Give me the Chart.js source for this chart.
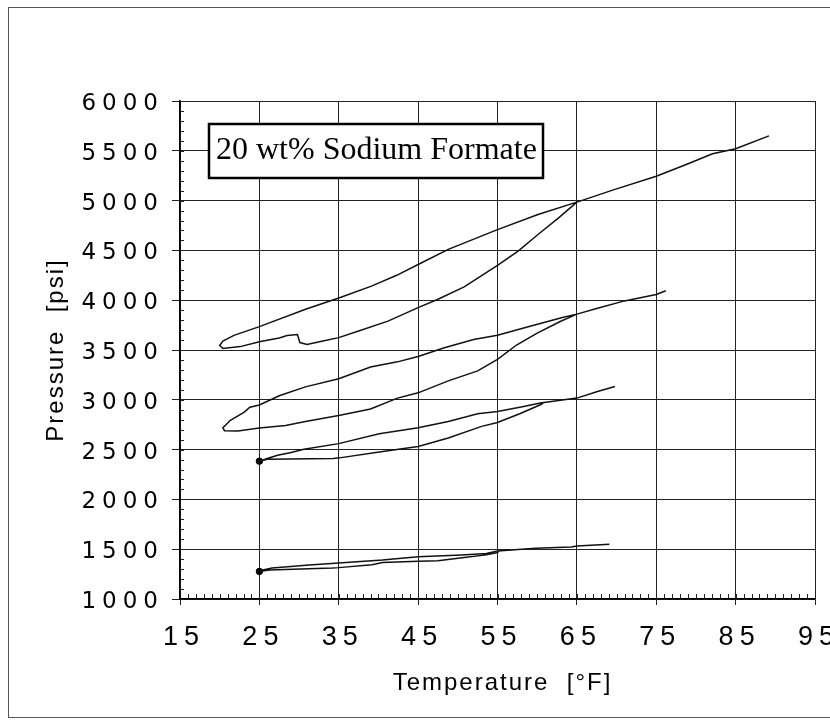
<!DOCTYPE html>
<html>
<head>
<meta charset="utf-8">
<script src="https://cdn.jsdelivr.net/npm/chart.js@4.4.1/dist/chart.umd.min.js"></script>
<style>
html, body { margin: 0; padding: 0; background: #fff; overflow: hidden; }
#wrap { position: relative; width: 830px; height: 725px; overflow: hidden; }
#frame { position: absolute; left: 8px; top: 7px; width: 850px; height: 709px; border: 1px solid #555; }
canvas { position: absolute; left: 0; top: 0; }
</style>
</head>
<body>
<div id="wrap">
  <div id="frame"></div>
  <canvas id="chart" width="830" height="725"></canvas>
</div>
<script>
'use strict'

// axis ticks
const xTickValues = [15, 25, 35, 45, 55, 65, 75, 85, 95];
const yTickValues = [1000, 1500, 2000, 2500, 3000, 3500, 4000, 4500, 5000, 5500, 6000];
const xMinorStep = 1;
const yMinorStep = 100;

const xTitle = 'Temperature  [°F]';
const yTitle = 'Pressure  [psi]';
const boxLabel = '20 wt% Sodium Formate';

// each loop: lower branch (right -> left) then upper branch (left -> right)
const loop1Temp = [65, 62.7, 60.1, 57.6, 55, 50.8, 47.5, 45, 41.2, 37.5, 35, 33, 31, 30.1, 29.8, 28.5, 27.5, 25, 22.6, 20.4, 20.0, 20.4, 21.8, 25, 30.9, 35.1, 39.2, 42.3, 45, 48.8, 55, 60.1, 65, 69.7, 75, 78.7, 82.1, 85, 89.2];
const loop1Pres = [4985, 4826, 4660, 4493, 4350, 4133, 4010, 3925, 3790, 3690, 3624, 3590, 3555, 3575, 3655, 3645, 3620, 3583, 3534, 3515, 3545, 3590, 3647, 3735, 3912, 4025, 4144, 4250, 4358, 4510, 4709, 4860, 4985, 5110, 5245, 5360, 5470, 5520, 5650];

const loop2Temp = [65, 62.9, 60, 57.4, 55, 52.5, 48.8, 45, 42.4, 39, 35, 30.8, 28.3, 25, 22.3, 20.6, 20.4, 20.8, 21.3, 23.1, 23.8, 25, 27.5, 30.8, 35, 39, 42.4, 45, 48.3, 52, 55, 59.1, 63.3, 65, 67.6, 71, 75, 76.2];
const loop2Pres = [3860, 3786, 3670, 3550, 3405, 3290, 3190, 3070, 3017, 2908, 2842, 2782, 2742, 2716, 2688, 2690, 2720, 2750, 2792, 2876, 2926, 2948, 3040, 3130, 3212, 3330, 3381, 3435, 3523, 3605, 3648, 3738, 3828, 3860, 3920, 3993, 4057, 4095];

const loop3Temp = [60.8, 60.4, 57.8, 55, 53, 48.8, 45, 40.1, 35.1, 34.3, 26, 25, 26, 27.3, 29, 30.6, 35, 40.1, 45, 48.8, 52.5, 55, 58.3, 60.4, 65, 67.6, 69.8];
const loop3Pres = [2970, 2950, 2860, 2773, 2733, 2617, 2532, 2477, 2417, 2410, 2404, 2384, 2410, 2443, 2470, 2503, 2560, 2659, 2719, 2783, 2860, 2883, 2933, 2967, 3017, 3083, 3133];

const loop4Temp = [55.2, 55, 53.6, 50.8, 47.5, 45, 40.5, 39.2, 35, 34.2, 26.3, 25, 25.3, 26.6, 31.3, 35, 40.5, 45, 50.5, 53.6, 55, 59.8, 64.3, 65, 69.1];
const loop4Pres = [1483, 1467, 1443, 1416, 1383, 1380, 1366, 1345, 1315, 1311, 1291, 1277, 1290, 1311, 1341, 1361, 1391, 1425, 1443, 1457, 1483, 1510, 1523, 1533, 1550];

// start points (dots)
const startTemp = [25, 25];
const startPres = [2384, 1277];

function toPoints(xs, ys) {
  return xs.map((x, i) => ({ x: x, y: ys[i] }));
}

function loopSet(xs, ys) {
  return {
    data: toPoints(xs, ys),
    showLine: true,
    borderColor: '#111',
    borderWidth: 1.5,
    pointRadius: 0,
    tension: 0,
    fill: false
  };
}

// tick spacing + minor ticks + label box + axis titles
const decorPlugin = {
  id: 'decor',
  beforeDraw(chart) {
    chart.ctx.letterSpacing = '6px';
  },
  beforeDatasetsDraw(chart) {
    const ctx = chart.ctx;
    const a = chart.chartArea;
    const xs = chart.scales.x;
    const ys = chart.scales.y;
    ctx.save();
    ctx.letterSpacing = '0px';
    ctx.strokeStyle = '#222';
    ctx.lineWidth = 1;
    ctx.beginPath();
    for (let t = xs.min + xMinorStep; t < xs.max; t += xMinorStep) {
      const px = Math.round(xs.getPixelForValue(t)) + 0.5;
      ctx.moveTo(px, a.bottom);
      ctx.lineTo(px, a.bottom - 5);
    }
    for (let p = ys.min + yMinorStep; p < ys.max; p += yMinorStep) {
      const py = Math.round(ys.getPixelForValue(p)) + 0.5;
      ctx.moveTo(a.left, py);
      ctx.lineTo(a.left + 4, py);
    }
    ctx.stroke();

    // label box
    const bx = a.left + 29, by = a.top + 23, bw = 334, bh = 54;
    ctx.fillStyle = '#fff';
    ctx.fillRect(bx, by, bw, bh);
    ctx.lineWidth = 2.5;
    ctx.strokeStyle = '#000';
    ctx.strokeRect(bx, by, bw, bh);
    ctx.fillStyle = '#000';
    ctx.font = '32px "Liberation Serif", "Times New Roman", serif';
    ctx.textAlign = 'left';
    ctx.textBaseline = 'alphabetic';
    ctx.fillText(boxLabel, bx + 7, by + 35);
    ctx.restore();
  },
  afterDraw(chart) {
    const ctx = chart.ctx;
    const a = chart.chartArea;
    ctx.save();
    ctx.letterSpacing = '2px';
    ctx.fillStyle = '#000';
    ctx.font = '24px "Liberation Sans", Arial, sans-serif';
    ctx.textAlign = 'center';
    ctx.textBaseline = 'alphabetic';
    ctx.fillText(xTitle, (a.left + a.right) / 2 + 5, 690);
    ctx.translate(56, (a.top + a.bottom) / 2);
    ctx.rotate(-Math.PI / 2);
    ctx.textBaseline = 'middle';
    ctx.fillText(yTitle, 0, 0);
    ctx.restore();
    ctx.letterSpacing = '0px';
  }
};

new Chart(document.getElementById('chart'), {
  type: 'scatter',
  data: {
    datasets: [
      loopSet(loop1Temp, loop1Pres),
      loopSet(loop2Temp, loop2Pres),
      loopSet(loop3Temp, loop3Pres),
      loopSet(loop4Temp, loop4Pres),
      {
        data: toPoints(startTemp, startPres),
        showLine: false,
        pointRadius: 3.2,
        pointBackgroundColor: '#000',
        pointBorderColor: '#000'
      }
    ]
  },
  options: {
    responsive: false,
    animation: false,
    layout: { padding: { top: 101, right: 15, bottom: 66, left: 0 } },
    plugins: {
      legend: { display: false },
      tooltip: { enabled: false }
    },
    scales: {
      x: {
        type: 'linear',
        min: 15,
        max: 95,
        afterBuildTicks: s => { s.ticks = xTickValues.map(v => ({ value: v })); },
        afterFit: s => { s.height = 60; s.paddingLeft = 0; s.paddingRight = 0; },
        grid: { color: '#222', lineWidth: 1, tickLength: 6 },
        border: { color: '#000', width: 1.5 },
        ticks: {
          color: '#000',
          padding: 16,
          labelOffset: 4,
          maxRotation: 0,
          autoSkip: false,
          font: { family: '"Liberation Sans", Arial, sans-serif', size: 27 },
          callback: v => String(v)
        }
      },
      y: {
        type: 'linear',
        min: 1000,
        max: 6000,
        afterBuildTicks: s => { s.ticks = yTickValues.map(v => ({ value: v })); },
        afterFit: s => { s.width = 180; s.paddingTop = 0; s.paddingBottom = 0; },
        grid: { color: '#222', lineWidth: 1, tickLength: 8 },
        border: { color: '#000', width: 1.5 },
        ticks: {
          color: '#000',
          padding: 8,
          labelOffset: 3,
          font: { family: '"DejaVu Sans", sans-serif', size: 23 },
          callback: v => String(v)
        }
      }
    }
  },
  plugins: [decorPlugin]
});
</script>
</body>
</html>
